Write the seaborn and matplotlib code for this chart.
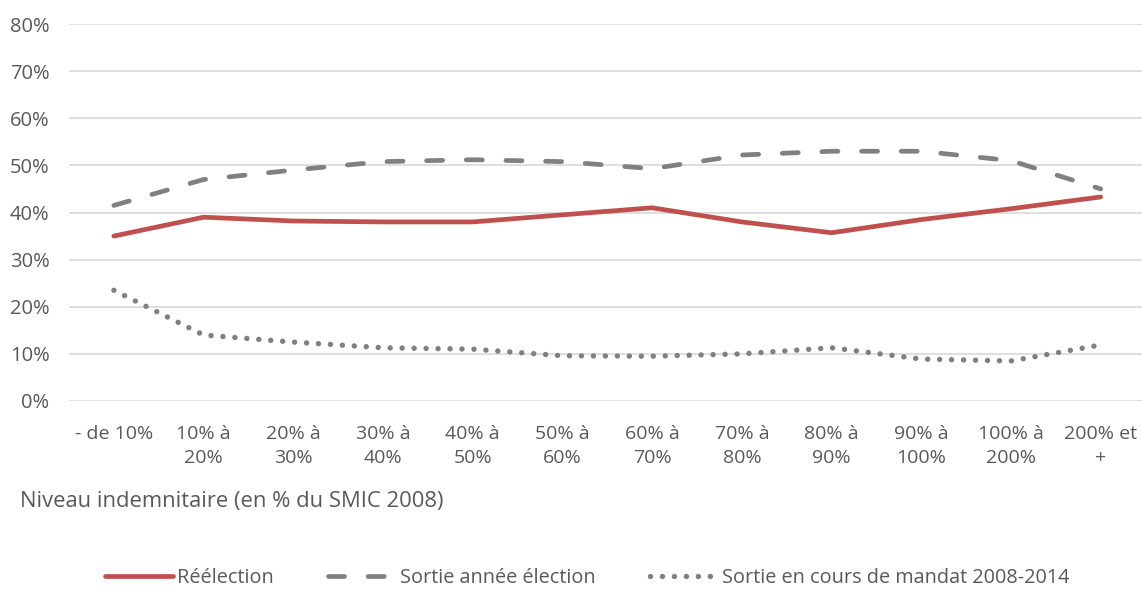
import numpy as np
import pandas as pd
import seaborn as sns
import matplotlib
matplotlib.use('Agg')
import matplotlib.pyplot as plt
from matplotlib.lines import Line2D

categories = ['- de 10%', '10% à\n20%', '20% à\n30%', '30% à\n40%', '40% à\n50%',
              '50% à\n60%', '60% à\n70%', '70% à\n80%', '80% à\n90%', '90% à\n100%',
              '100% à\n200%', '200% et\n+']
reelection = [35.0, 39.0, 38.2, 38.0, 38.0, 39.5, 41.0, 38.0, 35.7, 38.5, 40.8, 43.3]
sortie_annee = [41.5, 47.0, 49.0, 50.8, 51.2, 50.8, 49.3, 52.2, 53.0, 53.0, 51.0, 45.0]
sortie_cours = [23.5, 14.0, 12.5, 11.3, 11.0, 9.6, 9.5, 10.0, 11.3, 8.9, 8.5, 11.9]

series_names = ['Réélection', 'Sortie année élection', 'Sortie en cours de mandat 2008-2014']

df = pd.DataFrame({
    'x': list(range(len(categories))) * 3,
    'val': reelection + sortie_annee + sortie_cours,
    'serie': [series_names[0]] * 12 + [series_names[1]] * 12 + [series_names[2]] * 12,
})

sns.set_theme(style='white')
plt.rcParams['font.family'] = ['Open Sans', 'DejaVu Sans']

W, H = 1142, 589
fig = plt.figure(figsize=(W / 100, H / 100), dpi=100)
ax = fig.add_axes([69 / W, 1 - 401 / H, 1 - 69 / W, (401 - 24) / H])

red, grey, txt = '#c0504d', '#808080', '#595959'
lw = 3.4
dot_lw = 3.9
dash = (0, (3.4, 5))
dot = (0, (0.01, 2.2))

palette = {series_names[0]: red, series_names[1]: grey, series_names[2]: grey}
sns.lineplot(data=df, x='x', y='val', hue='serie', palette=palette, ax=ax, legend=False)

for line, ls, w in zip(ax.lines, ['-', dash, dot], [lw, lw, dot_lw]):
    line.set_linewidth(w)
    line.set_linestyle(ls)
    line.set_dash_capstyle('round')
    line.set_solid_capstyle('round')

ax.set_xlim(-0.5, 11.46)
ax.set_ylim(0, 80)
ax.set_yticks(np.arange(0, 81, 10))
ax.set_yticklabels([f'{v}%' for v in range(0, 81, 10)], fontsize=14.5)
ax.set_xticks(range(len(categories)))
ax.set_xticklabels(categories, linespacing=1.45, fontsize=14)
ax.grid(axis='y', color='#d9d9d9', linewidth=1.2)
ax.set_axisbelow(True)
for s in ax.spines.values():
    s.set_visible(False)
ax.tick_params(axis='both', colors=txt, length=0)
ax.tick_params(axis='x', pad=17)
ax.tick_params(axis='y', pad=14)
ax.set_xlabel('')
ax.set_ylabel('')

fig.text(20 / W, 1 - 502 / H, 'Niveau indemnitaire (en % du SMIC 2008)',
         fontsize=15.8, color=txt, va='center', ha='left')

handles = [
    Line2D([], [], color=red, lw=lw),
    Line2D([], [], color=grey, lw=lw, linestyle=dash, dash_capstyle='round'),
    Line2D([], [], color=grey, lw=dot_lw, linestyle=dot, dash_capstyle='round'),
]
leg = fig.legend(handles, series_names, loc='center left', bbox_to_anchor=(105 / W, 1 - 578 / H),
                 ncol=3, frameon=False, fontsize=14.3, handlelength=3.4, columnspacing=2.7,
                 handletextpad=0.25, borderpad=0, borderaxespad=0)
for t in leg.get_texts():
    t.set_color(txt)

fig.savefig('out.png', dpi=100)
